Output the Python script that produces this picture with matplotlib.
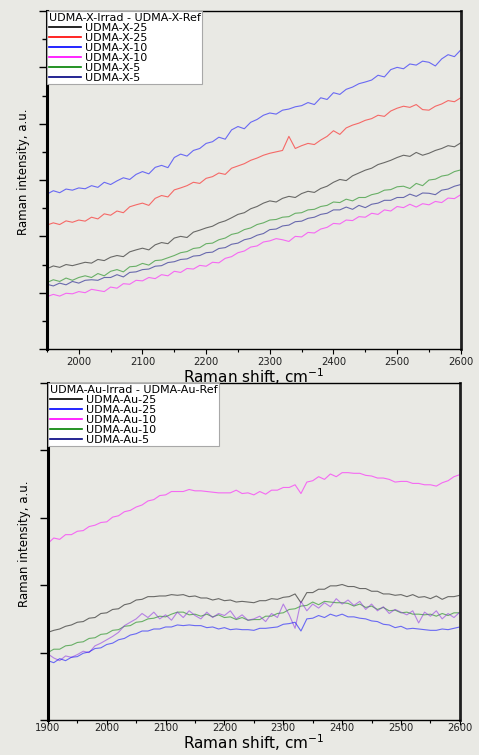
import numpy as np
import matplotlib
matplotlib.use('Agg')
import matplotlib.pyplot as plt
from matplotlib.lines import Line2D
from matplotlib.ticker import MultipleLocator

BG = '#e9e9e4'

# Raman shift grids (cm-1)
shift_x = np.arange(1950, 2601, 10)
shift_au = np.arange(1900, 2601, 10)

# UDMA-X difference spectra (Irrad - Ref), arbitrary units
x25_red = [4.40, 4.48, 4.42, 4.55, 4.50, 4.58, 4.54, 4.68, 4.62, 4.80,
           4.75, 4.90, 4.84, 5.05, 5.12, 5.18, 5.10, 5.35, 5.45, 5.40,
           5.65, 5.72, 5.80, 5.92, 5.88, 6.06, 6.12, 6.25, 6.20, 6.42,
           6.50, 6.58, 6.70, 6.78, 6.88, 6.95, 7.00, 7.05, 7.55, 7.12,
           7.22, 7.30, 7.26, 7.42, 7.55, 7.75, 7.62, 7.85, 7.95, 8.02,
           8.12, 8.18, 8.30, 8.26, 8.45, 8.55, 8.62, 8.58, 8.68, 8.50,
           8.48, 8.62, 8.70, 8.82, 8.78, 8.92]
x25_black = [2.85, 2.95, 2.90, 3.00, 2.96, 3.02, 3.08, 3.05, 3.18, 3.14,
             3.26, 3.32, 3.28, 3.45, 3.52, 3.58, 3.52, 3.70, 3.78, 3.74,
             3.94, 4.00, 3.96, 4.15, 4.22, 4.30, 4.36, 4.48, 4.55, 4.66,
             4.78, 4.84, 4.98, 5.06, 5.18, 5.26, 5.22, 5.35, 5.42, 5.38,
             5.52, 5.60, 5.56, 5.70, 5.78, 5.92, 6.02, 5.98, 6.15, 6.25,
             6.35, 6.42, 6.55, 6.62, 6.70, 6.80, 6.88, 6.84, 6.98, 6.88,
             6.95, 7.05, 7.12, 7.22, 7.18, 7.32]
x10_blue = [5.50, 5.62, 5.55, 5.68, 5.64, 5.72, 5.69, 5.80, 5.74, 5.92,
            5.84, 5.97, 6.08, 6.02, 6.20, 6.30, 6.22, 6.45, 6.52, 6.44,
            6.80, 6.92, 6.85, 7.05, 7.12, 7.30, 7.36, 7.52, 7.45, 7.78,
            7.90, 7.82, 8.05, 8.15, 8.30, 8.38, 8.34, 8.48, 8.52, 8.60,
            8.64, 8.75, 8.68, 8.92, 8.86, 9.10, 9.04, 9.22, 9.30, 9.42,
            9.48, 9.55, 9.72, 9.66, 9.92, 10.00, 9.95, 10.12, 10.08, 10.22,
            10.18, 10.05, 10.30, 10.45, 10.38, 10.62]
x10_magenta = [1.86, 1.94, 1.88, 1.98, 1.96, 2.04, 2.00, 2.12, 2.08, 2.04,
               2.20, 2.16, 2.32, 2.30, 2.44, 2.42, 2.54, 2.50, 2.64, 2.60,
               2.76, 2.72, 2.86, 2.84, 2.97, 2.94, 3.08, 3.06, 3.22, 3.28,
               3.42, 3.48, 3.62, 3.66, 3.80, 3.84, 3.92, 3.88, 3.82, 4.00,
               3.98, 4.14, 4.12, 4.26, 4.32, 4.46, 4.44, 4.58, 4.56, 4.70,
               4.68, 4.82, 4.78, 4.94, 4.90, 5.06, 5.02, 5.14, 5.04, 5.16,
               5.12, 5.24, 5.20, 5.36, 5.34, 5.48]
x5_green = [2.36, 2.46, 2.40, 2.52, 2.44, 2.54, 2.60, 2.54, 2.68, 2.60,
            2.76, 2.82, 2.74, 2.92, 2.94, 3.04, 2.98, 3.14, 3.16, 3.24,
            3.32, 3.42, 3.46, 3.57, 3.60, 3.74, 3.76, 3.88, 3.94, 4.07,
            4.12, 4.24, 4.30, 4.42, 4.48, 4.58, 4.60, 4.68, 4.70, 4.82,
            4.84, 4.94, 4.96, 5.06, 5.10, 5.22, 5.20, 5.32, 5.26, 5.38,
            5.38, 5.48, 5.53, 5.64, 5.66, 5.76, 5.78, 5.70, 5.88, 5.80,
            6.00, 6.03, 6.14, 6.18, 6.30, 6.36]
x5_navy = [2.30, 2.24, 2.34, 2.28, 2.40, 2.34, 2.44, 2.46, 2.44, 2.54,
           2.54, 2.64, 2.56, 2.72, 2.74, 2.82, 2.84, 2.94, 2.96, 3.07,
           3.10, 3.18, 3.20, 3.30, 3.32, 3.42, 3.44, 3.57, 3.60, 3.72,
           3.76, 3.88, 3.93, 4.04, 4.10, 4.24, 4.26, 4.37, 4.40, 4.52,
           4.54, 4.64, 4.68, 4.78, 4.82, 4.94, 4.94, 5.04, 4.96, 5.10,
           5.02, 5.14, 5.18, 5.28, 5.28, 5.38, 5.38, 5.50, 5.42, 5.54,
           5.53, 5.48, 5.64, 5.68, 5.78, 5.84]

# UDMA-Au difference spectra (Irrad - Ref), arbitrary units
au25_black = [1.30, 1.33, 1.35, 1.39, 1.41, 1.45, 1.46, 1.51, 1.52, 1.58,
              1.59, 1.64, 1.65, 1.71, 1.73, 1.78, 1.79, 1.83, 1.83, 1.84,
              1.84, 1.86, 1.85, 1.86, 1.83, 1.84, 1.81, 1.81, 1.78, 1.80,
              1.77, 1.78, 1.75, 1.76, 1.75, 1.74, 1.77, 1.77, 1.80, 1.79,
              1.82, 1.83, 1.87, 1.74, 1.89, 1.89, 1.94, 1.94, 1.99, 1.99,
              2.01, 1.98, 1.98, 1.95, 1.95, 1.91, 1.91, 1.87, 1.87, 1.85,
              1.86, 1.83, 1.86, 1.82, 1.83, 1.80, 1.84, 1.79, 1.83, 1.83,
              1.85]
au25_blue = [0.88, 0.85, 0.91, 0.88, 0.93, 0.94, 0.99, 1.01, 1.06, 1.07,
             1.12, 1.14, 1.19, 1.21, 1.26, 1.28, 1.32, 1.32, 1.35, 1.35,
             1.38, 1.38, 1.41, 1.40, 1.41, 1.40, 1.40, 1.37, 1.38, 1.35,
             1.37, 1.34, 1.35, 1.34, 1.34, 1.33, 1.36, 1.36, 1.37, 1.38,
             1.42, 1.43, 1.45, 1.32, 1.50, 1.51, 1.55, 1.52, 1.57, 1.54,
             1.57, 1.53, 1.53, 1.51, 1.50, 1.47, 1.46, 1.42, 1.41, 1.37,
             1.39, 1.35, 1.36, 1.35, 1.34, 1.33, 1.33, 1.35, 1.34, 1.36,
             1.38]
au10_magenta = [2.62, 2.70, 2.68, 2.75, 2.75, 2.80, 2.81, 2.87, 2.89, 2.93,
                2.94, 3.01, 3.03, 3.09, 3.11, 3.16, 3.19, 3.25, 3.27, 3.33,
                3.34, 3.39, 3.39, 3.39, 3.42, 3.40, 3.40, 3.39, 3.38, 3.37,
                3.37, 3.37, 3.41, 3.36, 3.37, 3.34, 3.39, 3.35, 3.41, 3.41,
                3.45, 3.45, 3.49, 3.36, 3.53, 3.55, 3.61, 3.57, 3.65, 3.61,
                3.67, 3.67, 3.66, 3.66, 3.63, 3.62, 3.59, 3.59, 3.57, 3.53,
                3.54, 3.54, 3.51, 3.51, 3.49, 3.49, 3.47, 3.52, 3.55, 3.61,
                3.64]
au10_green = [1.00, 1.05, 1.05, 1.10, 1.11, 1.15, 1.16, 1.21, 1.22, 1.27,
              1.28, 1.33, 1.34, 1.39, 1.40, 1.45, 1.46, 1.50, 1.51, 1.54,
              1.53, 1.57, 1.60, 1.60, 1.56, 1.57, 1.54, 1.57, 1.53, 1.56,
              1.52, 1.53, 1.49, 1.52, 1.48, 1.49, 1.49, 1.54, 1.54, 1.58,
              1.59, 1.64, 1.65, 1.69, 1.70, 1.75, 1.71, 1.76, 1.75, 1.74,
              1.74, 1.73, 1.69, 1.72, 1.67, 1.69, 1.64, 1.67, 1.62, 1.63,
              1.59, 1.60, 1.57, 1.57, 1.56, 1.57, 1.54, 1.58, 1.55, 1.59,
              1.59]
au5_violet = [0.98, 0.92, 0.88, 0.95, 0.93, 0.97, 1.02, 1.00, 1.10, 1.14,
              1.19, 1.24, 1.30, 1.40, 1.45, 1.50, 1.58, 1.52, 1.60, 1.50,
              1.56, 1.48, 1.60, 1.52, 1.62, 1.55, 1.50, 1.60, 1.52, 1.58,
              1.55, 1.62, 1.50, 1.56, 1.48, 1.50, 1.54, 1.46, 1.58, 1.52,
              1.72, 1.56, 1.36, 1.76, 1.62, 1.72, 1.66, 1.74, 1.68, 1.80,
              1.72, 1.78, 1.70, 1.76, 1.64, 1.72, 1.62, 1.68, 1.58, 1.64,
              1.60, 1.56, 1.62, 1.44, 1.60, 1.54, 1.62, 1.50, 1.58, 1.52,
              1.60]

x_labels = ['UDMA-X-25', 'UDMA-X-25', 'UDMA-X-10', 'UDMA-X-10', 'UDMA-X-5', 'UDMA-X-5']
x_colors = ['black', 'red', 'blue', 'magenta', 'green', 'navy']
au_labels = ['UDMA-Au-25', 'UDMA-Au-25', 'UDMA-Au-10', 'UDMA-Au-10', 'UDMA-Au-5']
au_colors = ['black', 'blue', 'magenta', 'green', 'navy']

plt.rcParams['font.family'] = ['DejaVu Sans']


def style_axes(ax, xmin, ymax, y_minor, pad):
    ax.set_facecolor(BG)
    ax.set_xlim(xmin, 2600)
    ax.set_ylim(0, ymax)
    ax.xaxis.set_major_locator(MultipleLocator(100))
    ax.xaxis.set_minor_locator(MultipleLocator(50))
    ax.yaxis.set_major_locator(MultipleLocator(2 if y_minor else 1))
    if y_minor:
        ax.yaxis.set_minor_locator(MultipleLocator(1))
    ax.tick_params(axis='x', which='major', direction='out', length=3.5,
                   width=0.8, labelsize=7.2, pad=pad, labelcolor='#222222')
    ax.tick_params(axis='x', which='minor', direction='out', length=2, width=0.8)
    ax.tick_params(axis='y', which='major', direction='out', length=6,
                   width=1.0, labelleft=False)
    ax.tick_params(axis='y', which='minor', direction='out', length=3.5, width=1.0)
    ax.spines['left'].set_linewidth(2.2)
    ax.spines['right'].set_linewidth(2.0)
    ax.spines['right'].set_color('#202020')
    ax.spines['top'].set_linewidth(1.0)
    ax.spines['bottom'].set_linewidth(1.0)


def add_legend(ax, labels, colors, title):
    handles = [Line2D([], [], color=c, lw=1.2) for c in colors]
    leg = ax.legend(handles, labels, title=title, loc='upper left',
                    bbox_to_anchor=(0, 1), borderaxespad=0, fontsize=8,
                    title_fontsize=8, alignment='left', fancybox=False,
                    edgecolor='#a8a8a8', facecolor='white', framealpha=1,
                    labelspacing=0.0, handlelength=2.9, handletextpad=0.35,
                    borderpad=0.15)
    leg.get_frame().set_linewidth(0.8)


fig = plt.figure(figsize=(4.79, 7.55), dpi=100, facecolor=BG)
ax1 = fig.add_axes([0.098, 0.5377, 0.864, 0.4477])
ax2 = fig.add_axes([0.100, 0.0464, 0.860, 0.4463])

# top panel: UDMA-X
for y, c in [(x10_blue, 'blue'), (x25_red, 'red'), (x25_black, 'black'),
             (x5_green, 'green'), (x5_navy, 'navy'), (x10_magenta, 'magenta')]:
    ax1.plot(shift_x, y, color=c, lw=0.8, alpha=0.55)
style_axes(ax1, 1950, 12, True, 2.5)
add_legend(ax1, x_labels, x_colors, 'UDMA-X-Irrad - UDMA-X-Ref')
ax1.set_xlabel('Raman shift, cm$^{-1}$', fontsize=11)
ax1.xaxis.set_label_coords(0.5, -0.05)
ax1.set_ylabel('Raman intensity, a.u.', fontsize=8.5)
ax1.yaxis.set_label_coords(-0.041, 0.524)

# bottom panel: UDMA-Au
for y, c in [(au10_magenta, 'magenta'), (au25_black, 'black'),
             (au10_green, 'green'), (au5_violet, '#8a2be2'), (au25_blue, 'blue')]:
    ax2.plot(shift_au, y, color=c, lw=0.8, alpha=0.55)
style_axes(ax2, 1900, 5, False, -1)
add_legend(ax2, au_labels, au_colors, 'UDMA-Au-Irrad - UDMA-Au-Ref')
ax2.set_xlabel('Raman shift, cm$^{-1}$', fontsize=11)
ax2.xaxis.set_label_coords(0.5, -0.036)
ax2.set_ylabel('Raman intensity, a.u.', fontsize=8.5)
ax2.yaxis.set_label_coords(-0.041, 0.522)

fig.savefig('out.png', dpi=100, facecolor=BG)
